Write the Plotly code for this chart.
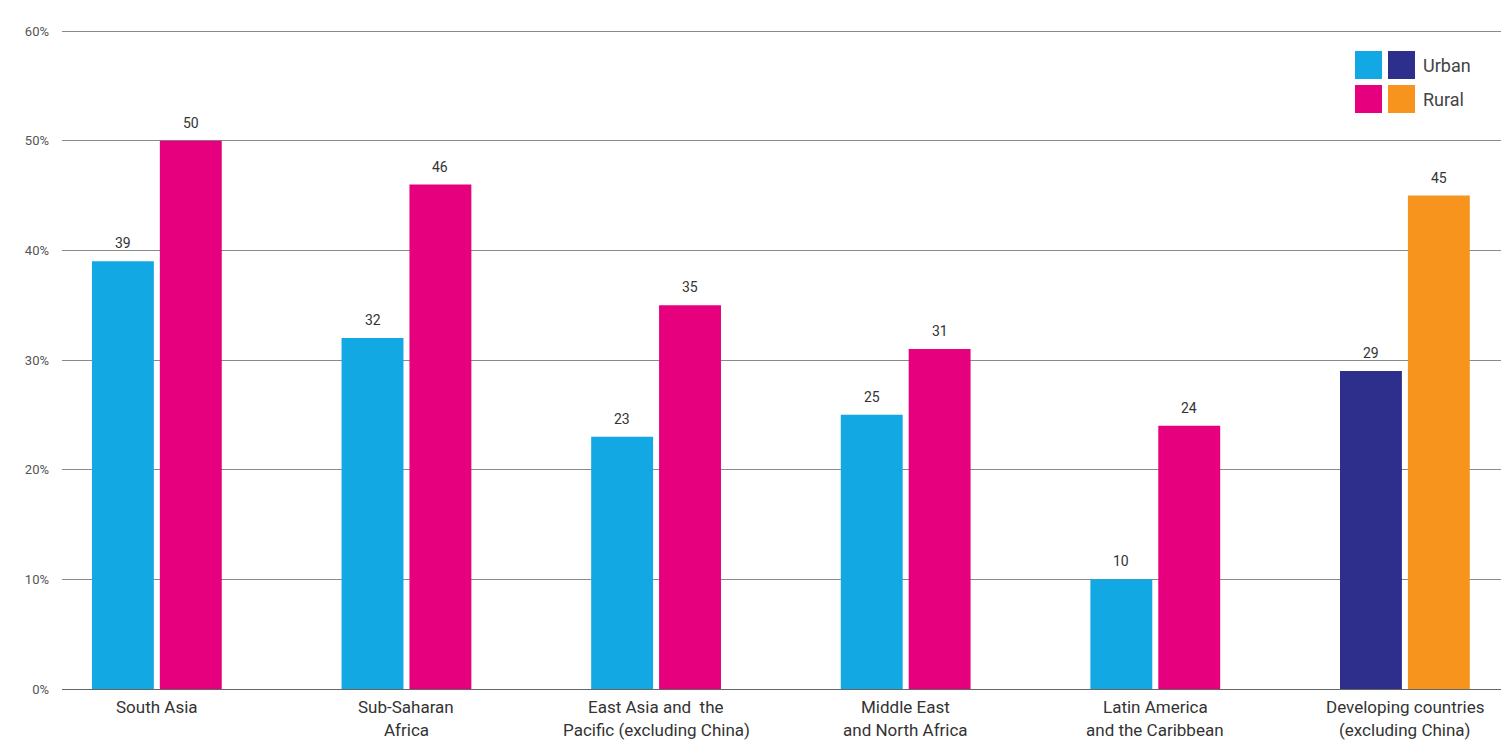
import plotly.graph_objects as go

cat_line1 = ["South Asia", "Sub-Saharan", "East Asia and  the", "Middle East",
             "Latin America", "Developing countries"]
cat_line2 = ["", "Africa", "Pacific (excluding China)", "and North Africa",
             "and the Caribbean", "(excluding China)"]
urban = [39, 32, 23, 25, 10, 29]
rural = [50, 46, 35, 31, 24, 45]
urban_colors = ["#12A8E3", "#12A8E3", "#12A8E3", "#12A8E3", "#12A8E3", "#2E2F8C"]
rural_colors = ["#E6007E", "#E6007E", "#E6007E", "#E6007E", "#E6007E", "#F7941D"]
y_ticks = [0, 10, 20, 30, 40, 50, 60]
y_tick_text = ["0%", "10%", "20%", "30%", "40%", "50%", "60%"]

FONT = "Roboto, sans-serif"
xs = list(range(len(cat_line1)))
BAR_W = 0.248
OFF_U = -0.26
OFF_R = 0.012

fig = go.Figure()
fig.add_trace(go.Bar(x=xs, y=urban, name="Urban", marker=dict(color=urban_colors, line_width=0),
                     width=BAR_W, offset=OFF_U))
fig.add_trace(go.Bar(x=xs, y=rural, name="Rural", marker=dict(color=rural_colors, line_width=0),
                     width=BAR_W, offset=OFF_R))

# value labels above bars
for vals, off in ((urban, OFF_U), (rural, OFF_R)):
    for x, v in zip(xs, vals):
        fig.add_annotation(x=x + off + BAR_W / 2, y=v, xref="x", yref="y", text=str(v),
                           showarrow=False, xanchor="center", yanchor="bottom", yshift=8,
                           font=dict(size=14, color="#333333", family=FONT))

# x category labels (two lines each)
for x, l1, l2 in zip(xs, cat_line1, cat_line2):
    fig.add_annotation(x=x, xref="x", yref="paper", y=-18 / 659, text=l1, showarrow=False,
                       xanchor="center", yanchor="middle",
                       font=dict(size=17, color="#333333", family=FONT))
    if l2:
        fig.add_annotation(x=x, xref="x", yref="paper", y=-41 / 659, text=l2, showarrow=False,
                           xanchor="center", yanchor="middle",
                           font=dict(size=17, color="#333333", family=FONT))

# custom legend (two swatches per row)
legend_rows = [("Urban", urban_colors[0], urban_colors[-1]), ("Rural", rural_colors[0], rural_colors[-1])]
for i, (lab, c1, c2) in enumerate(legend_rows):
    y0 = 51 + i * 34
    for j, c in enumerate([c1, c2]):
        x0 = 1355 + j * 33
        fig.add_shape(type="rect", xref="paper", yref="paper",
                      x0=(x0 - 62) / 1439, x1=(x0 + 27 - 62) / 1439,
                      y0=(689 - (y0 + 28)) / 659, y1=(689 - y0) / 659,
                      fillcolor=c, line_width=0)
    fig.add_annotation(xref="paper", yref="paper", x=(1421 - 62) / 1439, y=(689 - (y0 + 14)) / 659,
                       text=lab, showarrow=False, xanchor="left", yanchor="middle",
                       font=dict(size=18, color="#444444", family=FONT))

fig.update_layout(
    width=1501, height=747,
    margin=dict(l=62, r=0, t=30, b=58),
    paper_bgcolor="white", plot_bgcolor="white",
    showlegend=False,
    barmode="overlay",
    font=dict(family=FONT, color="#333333"),
    xaxis=dict(range=[-0.38, 5.385], tickvals=xs, showticklabels=False,
               showgrid=False, zeroline=False, showline=False, ticks=""),
    yaxis=dict(range=[0, 60.1], tickvals=y_ticks, ticktext=y_tick_text,
               tickfont=dict(size=13, color="#555555", family=FONT),
               showgrid=True, gridcolor="#8a8a8a", gridwidth=1,
               zeroline=True, zerolinecolor="#666666", zerolinewidth=1,
               ticklabelstandoff=12),
)

fig.write_html("out.html")
